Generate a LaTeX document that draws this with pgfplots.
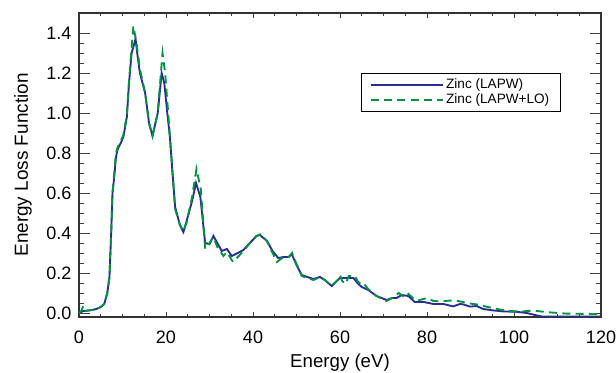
\documentclass[border=0pt]{standalone}
\usepackage{pgfplots}
\pgfplotsset{compat=1.18}
\usepackage{fontspec}
\setmainfont{Liberation Sans}
\definecolor{lapwblue}{RGB}{40,45,145}
\definecolor{logreen}{RGB}{0,145,65}
\begin{document}
\begin{tikzpicture}
\useasboundingbox (-59.25pt,-42pt) rectangle (402.75pt,237.75pt);
\begin{axis}[
  scale only axis,
  anchor=south west, at={(0pt,0pt)},
  width=391.5pt, height=228pt,
  xmin=0, xmax=120, ymin=-0.02, ymax=1.5,
  xtick={0,20,...,120}, minor x tick num=3,
  ytick={0,0.2,...,1.4}, minor y tick num=3,
  yticklabel style={xshift=-2.25pt, /pgf/number format/fixed, /pgf/number format/fixed zerofill, /pgf/number format/precision=1},
  /pgf/number format/assume math mode=true,
  tick align=inside,
  x tick style={/pgfplots/major tick length=3.75pt, /pgfplots/minor tick length=1.9pt},
  y tick style={/pgfplots/major tick length=8pt, /pgfplots/minor tick length=4pt},
  every tick/.style={black!75, line width=0.6pt},
  axis line style={black!80, line width=0.8pt},
  tick label style={font=\fontsize{13.5}{15}\selectfont},
  xticklabel style={yshift=-7pt},
  every axis x label/.style={at={(rel axis cs:0.5,0)}, anchor=center, yshift=-34pt, font=\fontsize{14}{16}\selectfont},
  every axis y label/.style={at={(rel axis cs:0,0.5)}, anchor=center, xshift=-42pt, rotate=90, font=\fontsize{14.2}{16}\selectfont},
  xlabel={Energy (eV)}, ylabel={Energy Loss Function},
  legend style={at={(0.9234,0.8026)}, anchor=north east, draw=black, line width=0.6pt,
    font=\fontsize{10.2}{11}\selectfont, inner xsep=6.5pt, inner ysep=2pt, row sep=-1.5pt,
    legend cell align=left},
  legend image code/.code={\draw[#1] (0pt,0pt) -- (51pt,0pt); \path (0pt,0pt) -- (54pt,0pt);},
]
\addplot[lapwblue, line width=1.4pt] coordinates {
(0,0) (0.5,0.005) (1,0.01) (2,0.012) (3,0.015) (4,0.02) (5,0.03) (5.8,0.045)
(6.5,0.1) (7,0.18) (7.4,0.4) (7.7,0.6) (8.1,0.68) (8.5,0.78) (8.9,0.82) (9.6,0.85)
(10.2,0.88) (11,0.98) (11.5,1.15) (12.1,1.30) (13,1.37) (13.5,1.28) (14,1.20)
(15.2,1.10) (16.1,0.95) (16.9,0.885) (18.1,1.0) (19,1.20) (19.6,1.15) (20.3,1.0)
(20.9,0.88) (21.5,0.7) (22.1,0.53) (23.2,0.44) (24.0,0.405) (24.7,0.457) (26.0,0.56)
(26.9,0.65) (27.9,0.58) (29,0.35) (30,0.345) (30.9,0.385) (31.8,0.35) (32.8,0.31)
(34,0.32) (35.1,0.285) (36.5,0.30) (37.8,0.315) (39.5,0.355) (40.8,0.385) (41.6,0.39)
(43.2,0.36) (44.5,0.31) (45.8,0.275) (47,0.28) (48.2,0.28) (48.9,0.295) (50,0.24)
(51.2,0.19) (52.5,0.18) (53.9,0.17) (55.4,0.18) (56.5,0.165) (58.1,0.135) (59,0.155)
(60,0.175) (61.5,0.175) (63.1,0.175) (64,0.15) (65,0.13) (66.5,0.115) (68.4,0.085)
(70.7,0.065) (72,0.075) (73,0.075) (74.2,0.09) (75.7,0.085) (77.2,0.055) (79.2,0.055)
(81.5,0.045) (83.8,0.045) (86,0.033) (87.6,0.045) (88.3,0.043) (89.9,0.032) (91.4,0.035)
(92.9,0.02) (95.2,0.013) (97.5,0.008) (100.6,0.006) (102.9,0.0) (105.2,-0.012)
(106.5,-0.018) (120,-0.018)
};
\addlegendentry{Zinc (LAPW)}
\addplot[logreen, line width=1.4pt, dash pattern=on 6pt off 4pt] coordinates {
(0,0) (0.5,0.01) (1,0.035) (1.5,0.01) (2,0.012) (3,0.015) (4,0.02) (5,0.03) (5.8,0.045)
(6.5,0.1) (7,0.18) (7.4,0.4) (7.7,0.6) (8.1,0.7) (8.5,0.8) (8.9,0.83) (9.6,0.86)
(10.2,0.89) (11,0.99) (11.5,1.16) (12.1,1.33) (12.5,1.435) (13.2,1.35) (14,1.22)
(15.2,1.10) (16.1,0.95) (16.9,0.885) (18.1,1.0) (19.2,1.30) (19.8,1.2) (20.5,1.0)
(21,0.85) (22.1,0.52) (23.2,0.44) (24,0.41) (24.7,0.45) (26,0.58) (27.0,0.72)
(28,0.62) (29,0.32) (30,0.35) (30.9,0.38) (31.8,0.33) (33.2,0.285) (34,0.305)
(35.4,0.255) (36.5,0.28) (37.8,0.31) (39.5,0.355) (40.8,0.385) (41.8,0.395) (43.2,0.36)
(44.5,0.30) (45.5,0.255) (47,0.28) (48.2,0.28) (49,0.30) (50,0.245) (51.2,0.185)
(52.5,0.175) (53.9,0.165) (55.4,0.18) (56.5,0.165) (58.1,0.135) (59.5,0.165) (60,0.19)
(60.5,0.16) (61.3,0.145) (62,0.185) (63.5,0.185) (64,0.16) (65,0.14) (65.5,0.145)
(66.5,0.12) (68.4,0.085) (70.7,0.06) (72,0.075) (73.5,0.1) (74.5,0.085) (75.5,0.1)
(76.5,0.08) (77.5,0.06) (80,0.075) (81.5,0.06) (83,0.058) (85.3,0.062) (86.5,0.062)
(88.3,0.055) (89,0.05) (91.4,0.043) (94.4,0.028) (98,0.012) (100.6,0.008) (102,0.008)
(104.4,0.012) (106,0.008) (108.3,0.003) (112,-0.003) (118,-0.005) (120,-0.005)
};
\addlegendentry{Zinc (LAPW+LO)}
\end{axis}
\end{tikzpicture}
\end{document}
